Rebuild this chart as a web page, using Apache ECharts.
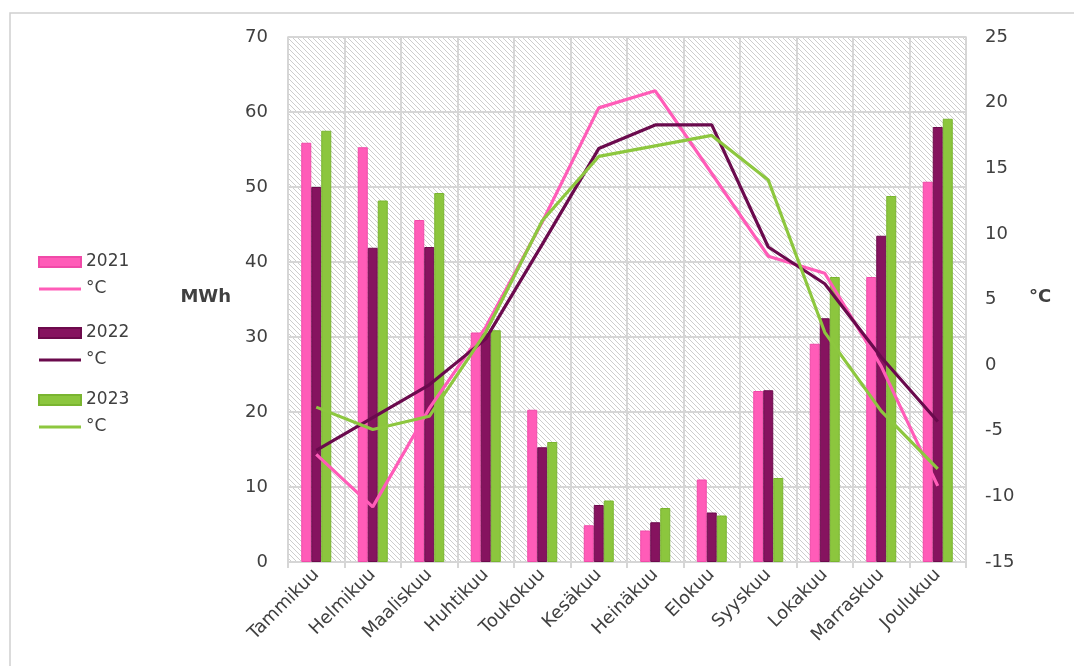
<!DOCTYPE html>
<html>
<head>
<meta charset="utf-8">
<script src="https://cdn.jsdelivr.net/npm/echarts@6/dist/echarts.min.js"></script>
<style>
  html, body { margin: 0; padding: 0; background: #ffffff; }
  #chart { width: 1074px; height: 666px; }
</style>
</head>
<body>
<div id="chart"></div>
<script>
// Months (Finnish)
const months = ['Tammikuu', 'Helmikuu', 'Maaliskuu', 'Huhtikuu', 'Toukokuu', 'Kesäkuu',
  'Heinäkuu', 'Elokuu', 'Syyskuu', 'Lokakuu', 'Marraskuu', 'Joulukuu'];

// Monthly energy use, MWh
const mwh2021 = [55.9, 55.3, 45.6, 30.6, 20.3, 4.9, 4.2, 11.0, 22.8, 29.1, 38.0, 50.7];
const mwh2022 = [50.0, 41.9, 42.0, 30.5, 15.3, 7.6, 5.3, 6.6, 22.9, 32.5, 43.5, 58.0];
const mwh2023 = [57.5, 48.2, 49.2, 30.9, 16.0, 8.2, 7.2, 6.2, 11.2, 38.0, 48.8, 59.1];

// Monthly mean temperature, °C
const temp2021 = [-6.8, -10.8, -3.3, 2.9, 10.9, 19.6, 20.9, 14.6, 8.3, 7.0, -0.1, -9.2];
const temp2022 = [-6.5, -4.0, -1.5, 2.0, 9.2, 16.5, 18.3, 18.3, 9.0, 6.2, 0.6, -4.3];
const temp2023 = [-3.2, -4.9, -3.9, 2.5, 11.0, 15.9, 16.7, 17.5, 14.1, 2.5, -3.5, -7.9];

const FONT = 'DejaVu Sans';
const TEXT = '#404040';
const GRID = '#d6d6d6';

// Diagonal hatch used as plot background
function hatch() {
  const n = 5;
  const c = document.createElement('canvas');
  c.width = n; c.height = n;
  const g = c.getContext('2d');
  g.fillStyle = '#ffffff';
  g.fillRect(0, 0, n, n);
  g.fillStyle = '#cdcdcd';
  for (let i = 0; i < n; i++) g.fillRect(i, i, 1, 1);
  return c;
}

// Thin horizontal stroke for the temperature legend entries
const LINE_ICON = 'path://M0,0L42,0L42,0.01L0,0.01Z M0,3.6L42,3.6L42,6.4L0,6.4Z M0,9.99L42,9.99L42,10L0,10Z';

const barColors = {
  '2021': { fill: '#ff5cb8', border: '#f04aa8' },
  '2022': { fill: '#86135f', border: '#6d0a4c' },
  '2023': { fill: '#8cc63e', border: '#7ab530' }
};
const lineColors = { '2021': '#ff5cb8', '2022': '#6a0a4d', '2023': '#8dc73f' };

function barSeries(name, data) {
  return {
    name: name, type: 'bar', data: data, yAxisIndex: 0,
    barWidth: 10, barGap: '0%',
    itemStyle: { color: barColors[name].fill, borderColor: barColors[name].border, borderWidth: 1 },
    z: 2
  };
}
function lineSeries(year, data) {
  return {
    name: '°C ' + year, type: 'line', data: data, yAxisIndex: 1,
    symbol: 'none', showSymbol: false,
    lineStyle: { color: lineColors[year], width: 3.2 },
    itemStyle: { color: lineColors[year] },
    z: 5
  };
}

function legendAt(top, year) {
  return {
    orient: 'vertical', left: 38, top: top, padding: 0,
    data: [{ name: year, icon: 'rect' }, { name: '°C ' + year, icon: LINE_ICON }],
    itemWidth: 42, itemHeight: 10, itemGap: 7,
    textStyle: { fontFamily: FONT, fontSize: 17, color: TEXT, lineHeight: 20 },
    formatter: function (n) { return n.indexOf('°C') === 0 ? '°C' : n; },
    selectedMode: false
  };
}

const chart = echarts.init(document.getElementById('chart'), null, { renderer: 'canvas' });
chart.setOption({
  backgroundColor: '#ffffff',
  animation: false,
  textStyle: { fontFamily: FONT },
  grid: {
    left: 288, right: 108, top: 37, bottom: 104,
    show: true,
    backgroundColor: { image: hatch(), repeat: 'repeat' },
    borderColor: GRID, borderWidth: 1.5
  },
  legend: [legendAt(252, '2021'), legendAt(323, '2022'), legendAt(390, '2023')],
  xAxis: {
    type: 'category', data: months, boundaryGap: true,
    axisLine: { show: true, lineStyle: { color: GRID, width: 2 } },
    axisTick: { show: true, alignWithLabel: false, length: 6, lineStyle: { color: GRID, width: 2 } },
    splitLine: { show: true, lineStyle: { color: GRID, width: 2 } },
    axisLabel: { rotate: 45, fontFamily: FONT, fontSize: 18, color: TEXT, margin: 10, interval: 0 }
  },
  yAxis: [
    {
      type: 'value', min: 0, max: 70, interval: 10, position: 'left',
      axisLine: { show: false }, axisTick: { show: false },
      splitLine: { show: true, lineStyle: { color: GRID, width: 2 } },
      axisLabel: { fontFamily: FONT, fontSize: 18, color: TEXT, margin: 20 }
    },
    {
      type: 'value', min: -15, max: 25, interval: 5, position: 'right',
      axisLine: { show: false }, axisTick: { show: false },
      splitLine: { show: false },
      axisLabel: { fontFamily: FONT, fontSize: 18, color: TEXT, margin: 19 }
    }
  ],
  graphic: [
    { type: 'rect', shape: { x: 10, y: 13, width: 1200, height: 800 }, silent: true,
      style: { fill: 'none', stroke: '#d0d0d0', lineWidth: 1.5 }, z: -1 },
    { type: 'text', right: 1074 - 231, top: 288,
      style: { text: 'MWh', font: 'bold 18px "DejaVu Sans"', fill: TEXT } },
    { type: 'text', left: 1029, top: 288,
      style: { text: '°C', font: 'bold 18px "DejaVu Sans"', fill: TEXT } }
  ],
  series: [
    barSeries('2021', mwh2021), lineSeries('2021', temp2021),
    barSeries('2022', mwh2022), lineSeries('2022', temp2022),
    barSeries('2023', mwh2023), lineSeries('2023', temp2023)
  ]
});
</script>
</body>
</html>
